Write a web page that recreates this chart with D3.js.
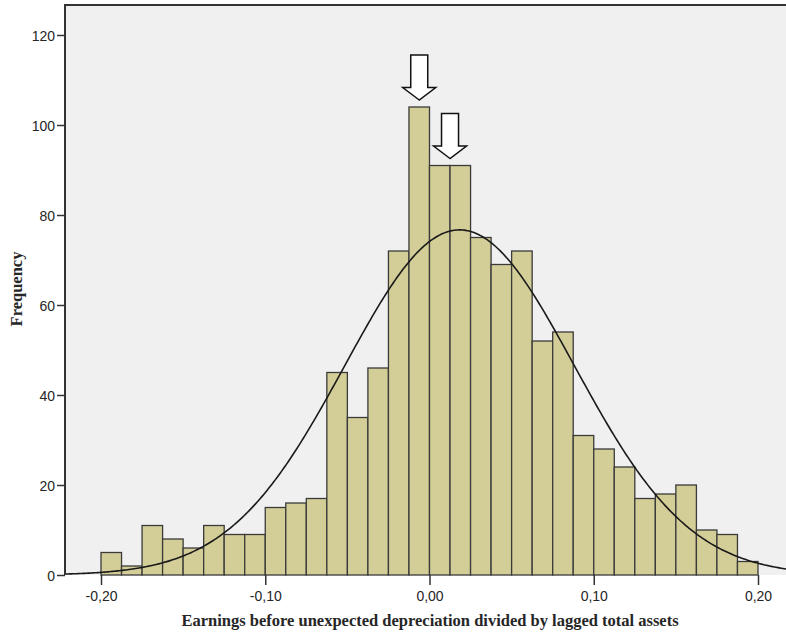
<meta charset="utf-8" />
<script src="https://d3js.org/d3.v7.min.js"></script>
<style>
  body { margin: 0; background: #fff; }
  svg text { fill: #262626; }
  .tick text { font-family: "Liberation Sans", Arial, sans-serif; font-size: 14px; }
  .title { font-family: "Liberation Serif", "Times New Roman", serif; font-size: 16.5px; font-weight: bold; }
</style>
<svg width="786" height="634"></svg>
<script>
  // histogram bins (lower edges) and counts
  var binStart = -0.2, binWidth = 0.0125;
  var counts = [5, 2, 11, 8, 6, 11, 9, 9, 15, 16, 17, 45, 35, 46, 72, 104,
                91, 91, 75, 69, 72, 52, 54, 31, 28, 24, 17, 18, 20, 10, 9, 3];
  var xTicks = [-0.2, -0.1, 0, 0.1, 0.2];
  var yTicks = [0, 20, 40, 60, 80, 100, 120];
  // fitted normal curve parameters
  var fitMean = 0.0183, fitSd = 0.0699;
  // arrows point at these bins
  var arrowBins = [15, 16.5];

  var bins = counts.map(function (c, i) {
    return { x0: binStart + i * binWidth, x1: binStart + (i + 1) * binWidth, n: c };
  });
  var total = d3.sum(counts);

  var svg = d3.select("svg");
  var x = d3.scaleLinear().domain([-0.2, 0.2]).range([101, 758]);
  var y = d3.scaleLinear().domain([0, 120]).range([575, 35]);

  var pLeft = 65, pTop = 5, pRight = 800, pBottom = 575;

  svg.append("rect")
    .attr("x", pLeft).attr("y", pTop)
    .attr("width", pRight - pLeft).attr("height", pBottom - pTop)
    .attr("fill", "#f0f0f0");

  svg.append("g").selectAll("rect")
    .data(bins)
    .enter().append("rect")
    .attr("x", function (d) { return x(d.x0); })
    .attr("y", function (d) { return y(d.n); })
    .attr("width", function (d) { return x(d.x1) - x(d.x0); })
    .attr("height", function (d) { return y(0) - y(d.n); })
    .attr("fill", "#d3ce97")
    .attr("stroke", "#3a3a3a")
    .attr("stroke-width", 1.3);

  // normal curve
  var pts = d3.range(x.invert(pLeft), x.invert(pRight), 0.001).map(function (v) {
    var z = (v - fitMean) / fitSd;
    return [v, total * binWidth * Math.exp(-0.5 * z * z) / (fitSd * Math.sqrt(2 * Math.PI))];
  });
  svg.append("path")
    .datum(pts)
    .attr("fill", "none")
    .attr("stroke", "#1a1a1a")
    .attr("stroke-width", 1.6)
    .attr("d", d3.line().x(function (d) { return x(d[0]); }).y(function (d) { return y(d[1]); }));

  // frame
  svg.append("path")
    .attr("d", "M" + pRight + "," + pTop + "H" + pLeft + "V" + pBottom)
    .attr("fill", "none")
    .attr("stroke", "#333")
    .attr("stroke-width", 2);

  // axes
  var yAxis = svg.append("g")
    .attr("transform", "translate(" + pLeft + ",0)")
    .call(d3.axisLeft(y).tickValues(yTicks).tickSize(8).tickPadding(2));
  var xAxis = svg.append("g")
    .attr("transform", "translate(0," + pBottom + ")")
    .call(d3.axisBottom(x).tickValues(xTicks).tickSize(10).tickPadding(6)
      .tickFormat(function (d) { return d3.format(".2f")(d).replace(".", ",").replace("−", "-"); }));
  [xAxis, yAxis].forEach(function (a) {
    a.select(".domain").remove();
    a.selectAll(".tick line").attr("stroke", "#333").attr("stroke-width", 1.5);
  });
  yAxis.selectAll(".tick text").attr("dy", "0.36em");

  // block arrows
  arrowBins.forEach(function (b) {
    var i = Math.floor(b);
    var cx = x(binStart + (b + 0.5) * binWidth);
    var tip = y(counts[i]) - 7;
    var p = [[0, 0], [-16.5, -12.5], [-8.5, -12.5], [-8.5, -45], [8.5, -45], [8.5, -12.5], [16.5, -12.5]];
    svg.append("path")
      .attr("d", "M" + p.map(function (q) { return (cx + q[0]) + "," + (tip + q[1]); }).join("L") + "Z")
      .attr("fill", "#fff")
      .attr("stroke", "#111")
      .attr("stroke-width", 1.5);
  });

  svg.append("text")
    .attr("class", "title")
    .attr("x", 430).attr("y", 626)
    .attr("text-anchor", "middle")
    .text("Earnings before unexpected depreciation divided by lagged total assets");

  svg.append("text")
    .attr("class", "title")
    .attr("transform", "translate(22,289) rotate(-90)")
    .attr("text-anchor", "middle")
    .text("Frequency");
</script>
